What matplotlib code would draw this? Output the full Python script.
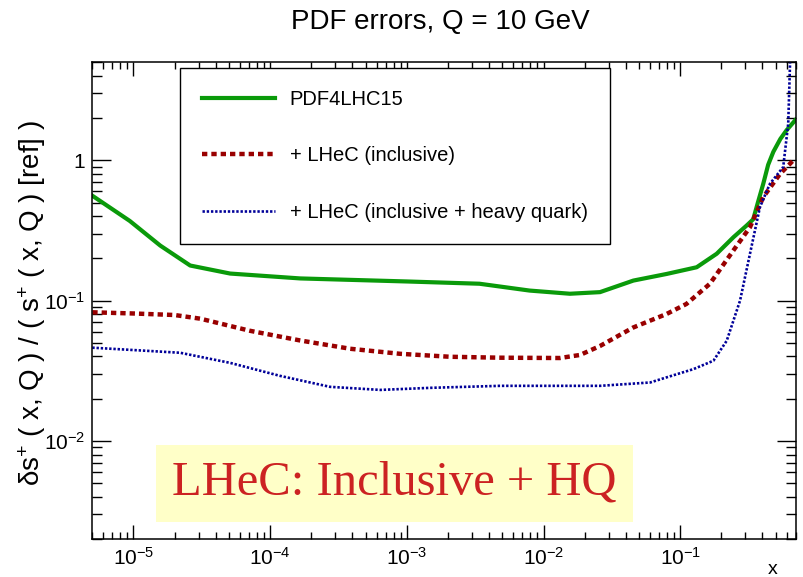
import math

import matplotlib
matplotlib.use('Agg')
from matplotlib import pyplot as plt
from matplotlib.patches import Rectangle
from matplotlib.ticker import LogLocator, FuncFormatter

plt.rcParams['font.family'] = ['Liberation Sans', 'DejaVu Sans']
plt.rcParams['mathtext.fontset'] = 'custom'
plt.rcParams['mathtext.rm'] = 'Liberation Sans'
plt.rcParams['mathtext.it'] = 'Liberation Sans:italic'

# relative s+ uncertainty at Q = 10 GeV
x_pdf4lhc = [5e-6, 9.4e-6, 1.57e-5, 2.6e-5, 5.1e-5, 1.66e-4, 1e-3, 3.4e-3, 7.9e-3,
             0.0156, 0.0259, 0.0454, 0.0796, 0.132, 0.185, 0.245, 0.306, 0.342,
             0.37, 0.405, 0.44, 0.48, 0.54, 0.60, 0.70]
y_pdf4lhc = [0.56, 0.37, 0.247, 0.178, 0.156, 0.144, 0.137, 0.132, 0.118,
             0.112, 0.115, 0.139, 0.155, 0.173, 0.216, 0.283, 0.343, 0.38,
             0.5, 0.68, 0.93, 1.15, 1.42, 1.64, 1.95]

x_incl = [5e-6, 1e-5, 2e-5, 3.1e-5, 7.1e-5, 1.66e-4, 3.85e-4, 8.9e-4, 2.07e-3,
          4.8e-3, 0.0132, 0.0185, 0.0259, 0.0454, 0.0796, 0.111, 0.165, 0.245,
          0.324, 0.405, 0.537, 0.672, 0.70]
y_incl = [0.0826, 0.081, 0.079, 0.0743, 0.061, 0.052, 0.0454, 0.0418, 0.0398,
          0.0392, 0.039, 0.041, 0.0475, 0.0644, 0.0804, 0.0947, 0.132, 0.228,
          0.334, 0.547, 0.80, 1.0, 1.0]

x_hq = [5e-6, 1.3e-5, 2.2e-5, 5.1e-5, 1.18e-4, 2.74e-4, 6.4e-4, 1.48e-3, 4.8e-3,
        0.0259, 0.0603, 0.0796, 0.125, 0.175, 0.219, 0.274, 0.324, 0.383,
        0.453, 0.567, 0.617, 0.64]
y_hq = [0.0462, 0.0438, 0.0425, 0.036, 0.0291, 0.0243, 0.0231, 0.0239, 0.0247,
        0.0247, 0.0261, 0.0284, 0.0325, 0.0373, 0.0518, 0.1, 0.216, 0.464,
        0.68, 0.896, 1.83, 6.0]

labels = ['PDF4LHC15', '+ LHeC (inclusive)', '+ LHeC (inclusive + heavy quark)']

fig = plt.figure(figsize=(8.04, 5.77), dpi=100)
ax = fig.add_axes([0.1148, 0.0659, 0.8749, 0.8261])

ax.plot(x_pdf4lhc, y_pdf4lhc, color='#0a9a0a', lw=3.0, label=labels[0])
ax.plot(x_incl, y_incl, color='#990000', lw=3.2, linestyle=(0, (1.2, 0.9)),
        label=labels[1])
ax.plot(x_hq, y_hq, color='#000099', lw=1.9, linestyle=(0, (0.9, 0.7)),
        label=labels[2])

ax.set_xscale('log')
ax.set_yscale('log')
ax.set_xlim(5e-6, 0.7)
ax.set_ylim(2e-3, 5)


def log_label(v, pos):
    if abs(v - 1) < 1e-9:
        return '1'
    return r'$10^{%d}$' % int(round(math.log10(v)))


ax.xaxis.set_major_locator(LogLocator(base=10, numticks=20))
ax.yaxis.set_major_locator(LogLocator(base=10, numticks=20))
ax.xaxis.set_minor_locator(LogLocator(base=10, subs=range(2, 10), numticks=50))
ax.yaxis.set_minor_locator(LogLocator(base=10, subs=range(2, 10), numticks=50))
ax.xaxis.set_major_formatter(FuncFormatter(log_label))
ax.yaxis.set_major_formatter(FuncFormatter(log_label))
ax.xaxis.set_minor_formatter(FuncFormatter(lambda v, p: ''))
ax.yaxis.set_minor_formatter(FuncFormatter(lambda v, p: ''))

ax.tick_params(axis='both', which='both', direction='in', top=True, right=True,
               labelsize=15, width=1.0)
ax.tick_params(axis='x', which='major', length=10, pad=6)
ax.tick_params(axis='x', which='minor', length=5)
ax.tick_params(axis='y', which='major', length=14, pad=5)
ax.tick_params(axis='y', which='minor', length=7)
for sp in ax.spines.values():
    sp.set_linewidth(1.1)

leg = ax.legend(loc='upper left', bbox_to_anchor=(0.1247, 0.988), fontsize=14.5,
                handlelength=3.6, handletextpad=0.75, labelspacing=1.85,
                borderpad=1.1, borderaxespad=0, fancybox=False,
                edgecolor='black', framealpha=1)
leg.get_frame().set_linewidth(1.0)

# highlighted label box
ax.add_patch(Rectangle((0.0906, 0.0363), 0.6781, 0.1607, transform=ax.transAxes,
                       facecolor='#ffffc8', edgecolor='none', zorder=1))
ax.text(0.429, 0.1175, 'LHeC: Inclusive + HQ', transform=ax.transAxes,
        ha='center', va='center', fontsize=35, color='#cc2222',
        family=['Liberation Serif', 'DejaVu Serif'], zorder=2)

fig.text(0.548, 1 - 22 / 577, 'PDF errors, Q = 10 GeV', ha='center', va='center',
         fontsize=20)
fig.text(0.040, 0.475, r'δs$^{+}$ ( x, Q ) / ( s$^{+}$ ( x, Q ) [ref] )',
         rotation=90, ha='center', va='center', fontsize=20)
fig.text(773 / 804, 1 - 570 / 577, 'x', ha='center', va='center', fontsize=14)

fig.savefig('out.png', dpi=100)
